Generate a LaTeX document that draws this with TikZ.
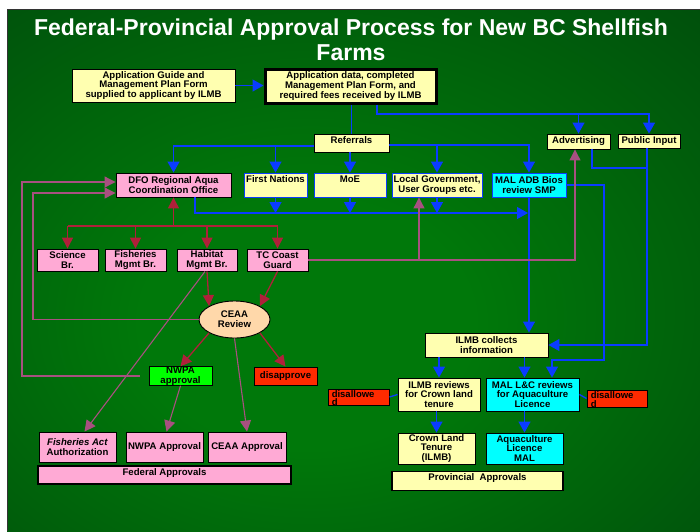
\documentclass[tikz,border=0pt]{standalone}
\usepackage{fontspec}
\setmainfont{Liberation Sans}
\usetikzlibrary{positioning, calc, arrows.meta, shapes.geometric}

\definecolor{bgcenter}{HTML}{00780A}
\definecolor{bgedge}{HTML}{002E0E}
\definecolor{paleyellow}{HTML}{FFFFB0}
\definecolor{softpink}{HTML}{FFAAD5}
\definecolor{aqua}{HTML}{00FFFF}
\definecolor{peach}{HTML}{FFD8AA}
\definecolor{brightgreen}{HTML}{00FF00}
\definecolor{alertred}{HTML}{FF2A00}
\definecolor{flowblue}{HTML}{0A3CFF}
\definecolor{darkred}{HTML}{B0203A}
\definecolor{mauve}{HTML}{A85080}

\pgfdeclareradialshading{greenglow}{\pgfpoint{-4bp}{-6bp}}{color(0bp)=(bgcenter); color(12bp)=(bgcenter); color(62bp)=(bgedge); color(80bp)=(bgedge)}

\newcommand{\bxfont}{\bfseries\fontsize{9.6}{9.9}\selectfont}

\begin{document}
\begin{tikzpicture}[
    x=1pt, y=-1pt,
    box/.style={draw=black, line width=0.9pt, align=center, inner sep=1pt, font=\bxfont},
    ybox/.style={box, fill=paleyellow},
    pbox/.style={box, fill=softpink},
    cbox/.style={box, fill=aqua},
    rbox/.style={box, fill=alertred, inner sep=0pt},
    topline/.style={inner ysep=2pt, text height=7pt, text depth=#1},
    distext/.style={font=\bfseries\fontsize{9.5}{8.5}\selectfont, align=left, inner sep=0pt},
    bline/.style={draw=flowblue, line width=1.3pt},
    barrow/.style={bline, -{Triangle[length=11pt, width=12pt]}},
    rline/.style={draw=darkred, line width=1.3pt},
    rarrow/.style={rline, -{Triangle[length=11pt, width=11pt]}},
    marrow/.style={draw=mauve, line width=1.1pt, -{Triangle[length=11pt, width=11pt]}}
]
% Page and background
\useasboundingbox (0,0) rectangle (700,531);
\fill[white] (0,0) rectangle (700,531);
\shade[shading=greenglow] (7,9) rectangle (700,531);
\draw[black!80, line width=0.8pt] (7,531) -- (7,9) -- (700,9);

% Title
\node[text=white, align=center, font=\bfseries\fontsize{23}{25}\selectfont] (title) at (351,40) {Federal-Provincial Approval Process for New BC Shellfish\\Farms};

% Application boxes
\node[ybox, minimum width=163, minimum height=33] (guide) at (153.5,85.5) {Application Guide and\\Management Plan Form\\supplied to applicant by ILMB};
\node[ybox, line width=3pt, minimum width=171, minimum height=34] (appdata) at (350.5,86) {Application data, completed\\Management Plan Form, and\\required fees received by ILMB};

% Referrals row
\node[ybox, topline=7pt, minimum width=75] (referrals) at (351.5,143) {Referrals};
\node[ybox, minimum width=63, minimum height=15] (advertising) at (578.5,141.5) {Advertising};
\node[ybox, minimum width=62, minimum height=14] (publicinput) at (649,141) {Public Input};

% Agencies
\node[pbox, minimum width=115, minimum height=24] (dfo) at (173.5,185) {DFO Regional Aqua\\Coordination Office};
\node[ybox, draw=flowblue, topline=13pt, minimum width=63] (firstnat) at (275.5,185) {First Nations};
\node[ybox, draw=flowblue, topline=13pt, minimum width=72] (moe) at (350,185) {MoE};
\node[ybox, draw=flowblue, minimum width=90, minimum height=24] (localgov) at (437,185) {Local Government,\\User Groups etc.};
\node[cbox, draw=flowblue, minimum width=74, minimum height=24] (maladb) at (529,185) {MAL ADB Bios\\review SMP};

% DFO branches
\node[pbox, minimum width=61, minimum height=22] (science) at (67.5,260) {Science\\Br.};
\node[pbox, minimum width=61, minimum height=22] (fishmgmt) at (135.5,260) {Fisheries\\Mgmt Br.};
\node[pbox, minimum width=60, minimum height=22] (habitat) at (207,260) {Habitat\\Mgmt Br.};
\node[pbox, minimum width=61, minimum height=22] (tccg) at (277.5,260) {TC Coast\\Guard};

% CEAA review and outcomes
\node[ellipse, draw, line width=0.9pt, fill=peach, font=\bxfont, align=center, inner sep=0pt, minimum width=71, minimum height=37] (ceaa) at (234.5,319.5) {CEAA\\Review};
\node[box, fill=brightgreen, inner sep=0pt, minimum width=63, minimum height=18] (nwpa) at (180.5,376) {NWPA\\approval};
\node[rbox, minimum width=63, minimum height=18] (disapprove) at (285.5,376) {disapprove};

% Federal approvals
\node[pbox, minimum width=77, minimum height=30] (fishact) at (77.5,447) {\textit{Fisheries Act}\\Authorization};
\node[pbox, minimum width=77, minimum height=30] (nwpaappr) at (164.5,447) {NWPA Approval};
\node[pbox, minimum width=78, minimum height=30] (ceaaappr) at (247,447) {CEAA Approval};
\node[pbox, line width=1.6pt, topline=7pt, minimum width=253] (federal) at (164.5,475) {Federal Approvals};

% Provincial side
\node[ybox, minimum width=123, minimum height=24] (ilmbcoll) at (486.5,345) {ILMB collects\\information};
\node[ybox, minimum width=82, minimum height=33] (ilmbrev) at (439,394.5) {ILMB reviews\\for Crown land\\tenure};
\node[cbox, minimum width=93, minimum height=33] (malcr) at (532.5,394.5) {MAL L\&C reviews\\for Aquaculture\\Licence};
\node[rbox, minimum width=61, minimum height=16] (disleft) at (358.5,397) {};
\node[distext, anchor=north west] (disleftlbl) at ([xshift=4pt, yshift=-1.5pt]disleft.north west) {disallowe\\d};
\node[rbox, minimum width=60, minimum height=17] (disright) at (617,398.5) {};
\node[distext, anchor=north west] (disrightlbl) at ([xshift=4pt, yshift=-2pt]disright.north west) {disallowe\\d};
\node[ybox, minimum width=77, minimum height=31] (crown) at (436.5,448.5) {Crown Land\\Tenure\\(ILMB)};
\node[cbox, minimum width=77, minimum height=31] (aqua) at (524.5,448.5) {Aquaculture\\Licence\\MAL};
\node[ybox, line width=1.8pt, topline=8pt, minimum width=171] (provincial) at (477.5,481) {Provincial\ \ Approvals};

% Blue flow
\coordinate (adbus) at (377,114);
\coordinate (refleft) at ([yshift=-3pt]referrals.west);
\coordinate (refright) at ([yshift=-2pt]referrals.east);
\coordinate (infobus) at (528,213);
\coordinate (maljog) at (604,360);
\coordinate (adjoin) at (647,168);
\draw[barrow] (guide.east) -- (guide.east -| appdata.west);
\draw[bline] (referrals.north |- appdata.south) -- (referrals.north);
\draw[barrow] (appdata.south -| adbus) -- (adbus) -| (publicinput.north);
\draw[barrow] (adbus -| advertising.north) -- (advertising.north);
\draw[barrow] (refleft) -| (dfo.north);
\draw[barrow] (firstnat.north |- refleft) -- (firstnat.north);
\draw[barrow] (moe.north |- referrals.south) -- (moe.north);
\draw[barrow] (refright) -| (maladb.north);
\draw[barrow] (localgov.north |- refright) -- (localgov.north);
\draw[barrow] ([xshift=21.5pt]dfo.south) |- (infobus);
\foreach \src in {firstnat, moe, localgov}
    \draw[barrow] (\src.south) -- (\src.south |- infobus);
\draw[barrow] (maladb.south) -- (maladb.south |- ilmbcoll.north);
\draw[barrow] (maladb.east) -| (maljog) -| ([xshift=19.5pt]malcr.north);
\draw[bline] ([xshift=13.5pt]advertising.south) |- (adjoin);
\draw[barrow] ([xshift=-2pt]publicinput.south) |- (ilmbcoll.east);
\draw[barrow] (ilmbrev.north |- ilmbcoll.south) -- (ilmbrev.north);
\draw[barrow] ([xshift=-8pt]malcr.north |- ilmbcoll.south) -- ([xshift=-8pt]malcr.north);
\draw[barrow] (crown.north |- ilmbrev.south) -- (crown.north);
\draw[barrow] (aqua.north |- malcr.south) -- (aqua.north);
\draw[bline] (ilmbrev.west) -- (disleft.east);
\draw[bline] (malcr.east) -- (disright.west);

% Red flow
\coordinate (brbus) at (171,226);
\draw[rarrow] (dfo.south |- brbus) -- (dfo.south);
\draw[rline] (science.north |- brbus) -- (tccg.north |- brbus);
\foreach \br in {science, fishmgmt, habitat, tccg}
    \draw[rarrow] (\br.north |- brbus) -- (\br.north);
\draw[rarrow] (habitat.south) -- (ceaa.north west);
\draw[rarrow] (tccg.south) -- (ceaa.north east);
\draw[rarrow] (ceaa.south west) -- (nwpa.north);
\draw[rarrow] (ceaa.south east) -- (disapprove.north);

% Feedback lines
\coordinate (loopin) at (33,319.5);
\coordinate (loopout) at (22,376);
\draw[marrow] (tccg.east) -| ([xshift=-3.5pt]advertising.south);
\draw[marrow] ([xshift=-18pt]localgov.south |- tccg.east) -- ([xshift=-18pt]localgov.south);
\draw[marrow] ([xshift=-2pt]habitat.south) -- ([xshift=7pt]fishact.north);
\draw[marrow] (ceaa.west) -- (loopin) |- ([yshift=-8pt]dfo.west);
\draw[marrow, shorten <=9pt] (nwpa.west) -- (loopout) |- ([yshift=3pt]dfo.west);
\draw[marrow] (ceaa.south) -- (ceaaappr.north);
\draw[marrow] (nwpa.south) -- ([xshift=2pt]nwpaappr.north);
\end{tikzpicture}
\end{document}
